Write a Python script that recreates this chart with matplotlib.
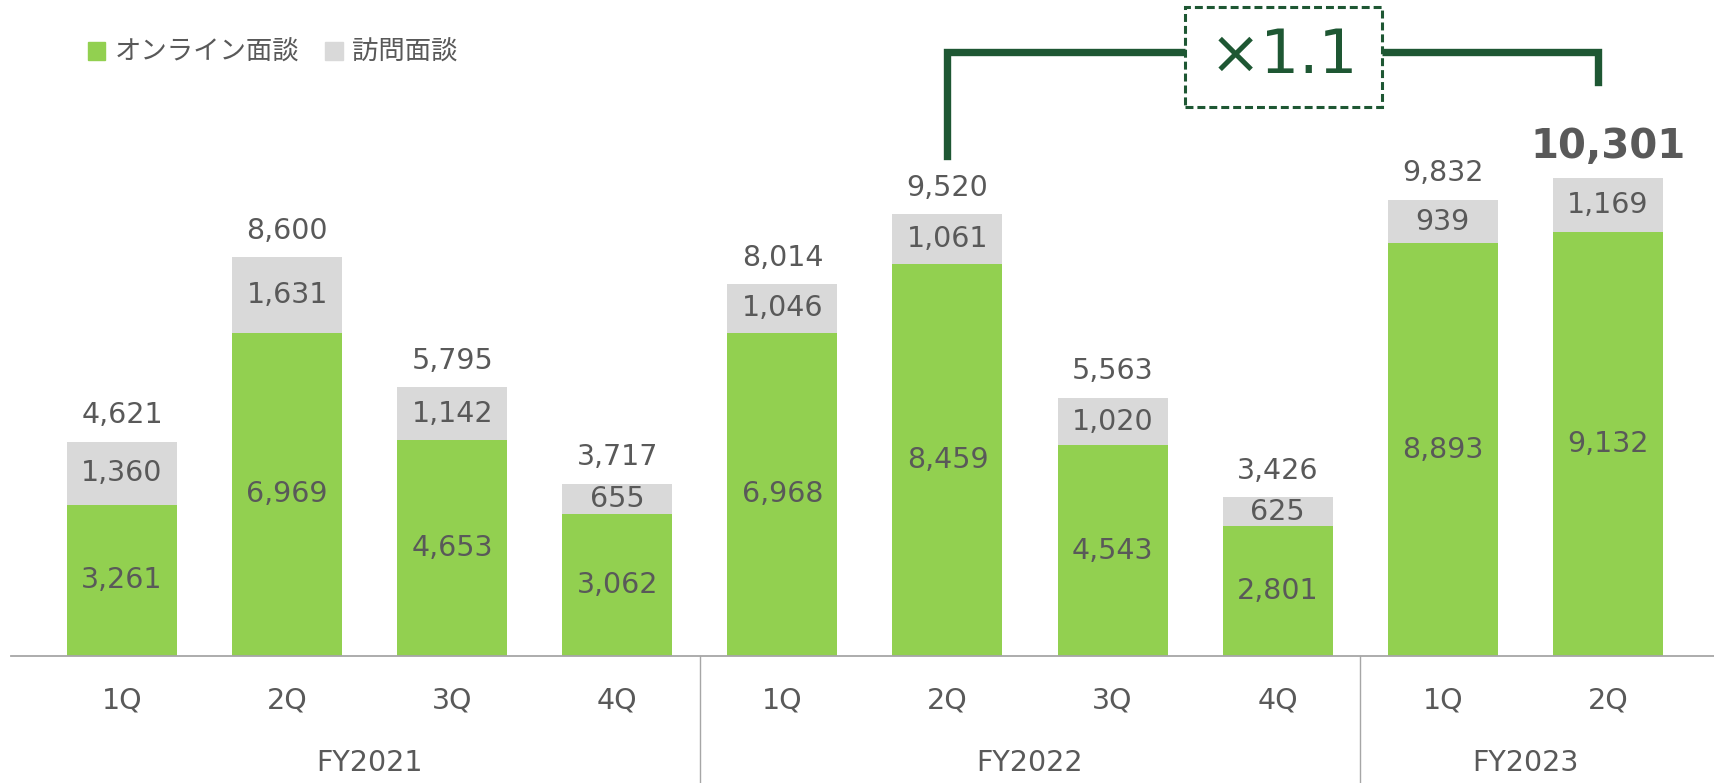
import matplotlib
matplotlib.use("Agg")
import matplotlib.pyplot as plt
import matplotlib.patches as mpatches
import numpy as np

plt.rcParams["font.family"] = ["DejaVu Sans", "Noto Sans CJK JP"]

# quarterly interview counts
quarters = ["1Q", "2Q", "3Q", "4Q", "1Q", "2Q", "3Q", "4Q", "1Q", "2Q"]
fiscal_years = ["FY2021", "FY2022", "FY2023"]
year_sizes = [4, 4, 2]
online = [3261, 6969, 4653, 3062, 6968, 8459, 4543, 2801, 8893, 9132]
visit = [1360, 1631, 1142, 655, 1046, 1061, 1020, 625, 939, 1169]
totals = [4621, 8600, 5795, 3717, 8014, 9520, 5563, 3426, 9832, 10301]
growth_label = "×1.1"
series_names = ["オンライン面談", "訪問面談"]

GREEN = "#92D050"
GREY = "#D9D9D9"
TEXT = "#595959"
DARK_GREEN = "#1E5733"
AXIS_GREY = "#A6A6A6"
FS = 20.5

fig = plt.figure(figsize=(17.15, 7.83), dpi=100)
ax = fig.add_axes([0, 0, 1, 1])
ax.set_xlim(-0.739, 9.649)
ax.set_ylim(-2737, 14138)
ax.axis("off")

x = np.arange(len(quarters))
ax.bar(x, online, width=0.666, color=GREEN, zorder=2)
ax.bar(x, visit, width=0.666, bottom=online, color=GREY, zorder=2)

# segment labels
for xi, on, vi in zip(x, online, visit):
    ax.text(xi, on / 2, f"{on:,}", ha="center", va="center", fontsize=FS, color=TEXT)
    ax.text(xi, on + vi / 2, f"{vi:,}", ha="center", va="center", fontsize=FS, color=TEXT)

# totals above the bars, last one emphasised
for i, (xi, tot) in enumerate(zip(x, totals)):
    last = i == len(totals) - 1
    ax.annotate(f"{tot:,}", xy=(xi, tot), xytext=(0, 22 if last else 19),
                textcoords="offset points", ha="center", va="center",
                fontsize=29 if last else FS,
                fontweight="bold" if last else "normal", color=TEXT)

# baseline and category axis
ax.plot([-0.672, 9.649], [0, 0], color=AXIS_GREY, lw=1.3, zorder=3)
for xi, q in zip(x, quarters):
    ax.annotate(q, xy=(xi, 0), xytext=(0, -32), textcoords="offset points",
                ha="center", va="center", fontsize=FS, color=TEXT)

start = 0
for fy, n in zip(fiscal_years, year_sizes):
    mid = start + (n - 1) / 2
    ax.annotate(fy, xy=(mid, 0), xytext=(0, -77), textcoords="offset points",
                ha="center", va="center", fontsize=FS, color=TEXT)
    if start + n < len(quarters):
        ax.plot([start + n - 0.5] * 2, [0, -2737], color=AXIS_GREY, lw=1.0)
    start += n

# growth bracket between FY2022 2Q and FY2023 2Q
bracket_y = 13017
ax.plot([5, 5, 8.94, 8.94], [10776, bracket_y, bracket_y, 12371],
        color=DARK_GREEN, lw=5.3, solid_joinstyle="miter", zorder=4)
box = mpatches.Rectangle((6.44, 11832), 7.63 - 6.44, 13987 - 11832,
                         facecolor="white", edgecolor=DARK_GREEN, lw=2.2,
                         linestyle=(0, (2.6, 1.3)), zorder=5)
ax.add_patch(box)
ax.text(7.035, 12565, growth_label, ha="center", va="baseline",
        fontsize=44, color=DARK_GREEN, zorder=6)

# legend
handles = [mpatches.Patch(color=GREEN, label=series_names[0]),
           mpatches.Patch(color=GREY, label=series_names[1])]
fig.legend(handles=handles, loc="upper left", bbox_to_anchor=(88 / 1715, 1 - 40 / 783),
           ncol=2, frameon=False, fontsize=19, handlelength=0.65, handleheight=0.65,
           handletextpad=0.35, columnspacing=1.0, borderpad=0, borderaxespad=0,
           labelcolor=TEXT)

fig.savefig("out.png", dpi=100)
